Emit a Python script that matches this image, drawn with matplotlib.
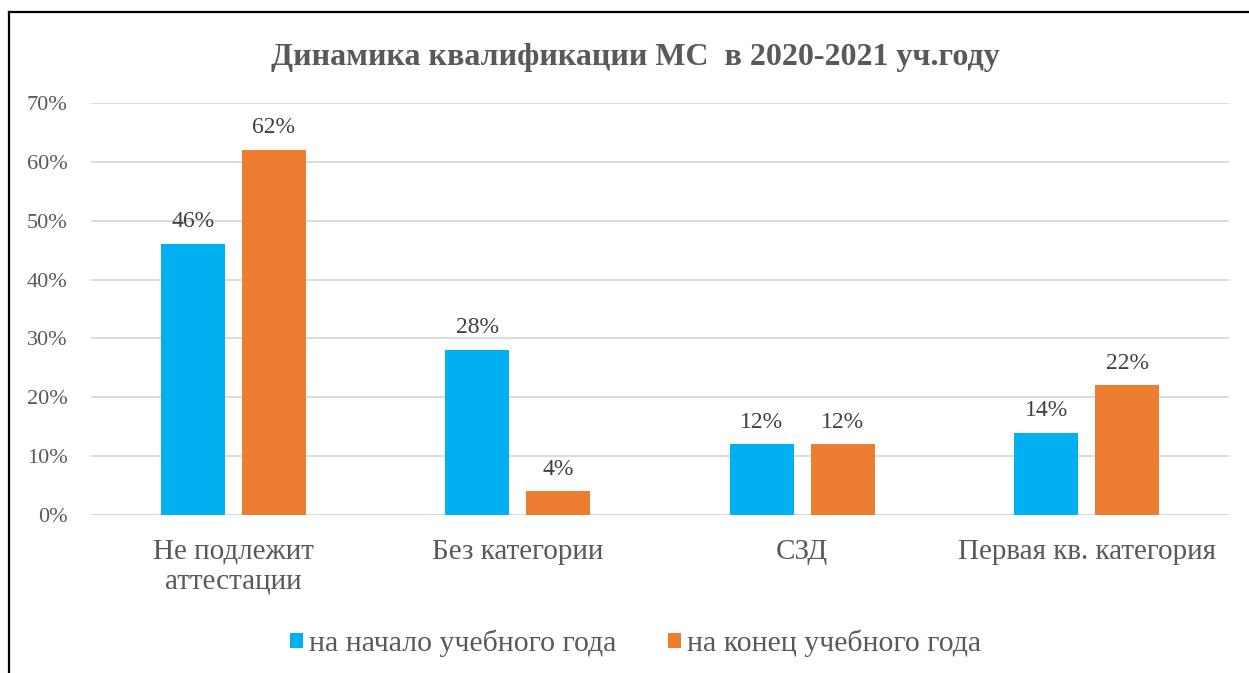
import numpy as np
import matplotlib
matplotlib.use('Agg')
import matplotlib.pyplot as plt
from matplotlib.lines import Line2D

# Qualification data (share of staff)
categories = ['Не подлежит\nаттестации', 'Без категории', 'СЗД', 'Первая кв. категория']
start_year = [46, 28, 12, 14]
end_year = [62, 4, 12, 22]
series_names = ['на начало учебного года', 'на конец учебного года']
title = 'Динамика квалификации МС  в 2020-2021 уч.году'

plt.rcParams['font.family'] = ['Liberation Serif', 'DejaVu Serif']
text_color = '#595959'
colors = ['#00b0f0', '#ed7d31']

fig = plt.figure(figsize=(12.49, 6.73), dpi=100)
ax = fig.add_axes([0.0729, 0.2348, 0.9111, 0.6122])

x = np.arange(len(categories))
width = 0.225
offset = 0.143
bars1 = ax.bar(x - offset, start_year, width, color=colors[0], label=series_names[0], zorder=3)
bars2 = ax.bar(x + offset, end_year, width, color=colors[1], label=series_names[1], zorder=3)

for bars, vals in ((bars1, start_year), (bars2, end_year)):
    for b, v in zip(bars, vals):
        ax.text(b.get_x() + b.get_width() / 2, v + 2.0, f'{v}%', ha='center', va='bottom',
                fontsize=17, color='#404040')

ax.set_xlim(-0.5, len(categories) - 0.5)
ax.set_ylim(0, 70)
ax.set_yticks(range(0, 71, 10))
ax.set_yticklabels([f'{t}%' for t in range(0, 71, 10)], fontsize=16, color=text_color)
ax.set_xticks(x)
ax.set_xticklabels(categories, fontsize=21, color=text_color, linespacing=1.2)
ax.tick_params(axis='both', length=0)
ax.tick_params(axis='y', pad=17)
ax.tick_params(axis='x', pad=17)
ax.yaxis.grid(True, color='#d9d9d9', linewidth=1.3, zorder=0)
for s in ax.spines.values():
    s.set_visible(False)
ax.axhline(0, color='#d9d9d9', linewidth=1.3, zorder=2)

fig.text(0.509, 0.915, title, ha='center', va='center', fontsize=23,
         fontweight='bold', color=text_color)

leg = fig.legend(handles=[bars1, bars2], labels=series_names, loc='center',
                 bbox_to_anchor=(0.509, 0.044), ncol=2, frameon=False, fontsize=21.5,
                 handlelength=0.42, handleheight=0.42, columnspacing=1.75, handletextpad=0.2)
for t in leg.get_texts():
    t.set_color(text_color)

# frame around the chart (open at the bottom and right)
fig.add_artist(Line2D([9 / 1249, 9 / 1249], [0, 1 - 12 / 673], transform=fig.transFigure,
                      color='black', linewidth=1.6))
fig.add_artist(Line2D([9 / 1249, 1], [1 - 12 / 673, 1 - 12 / 673], transform=fig.transFigure,
                      color='black', linewidth=1.6))

fig.savefig('out.png', dpi=100)
